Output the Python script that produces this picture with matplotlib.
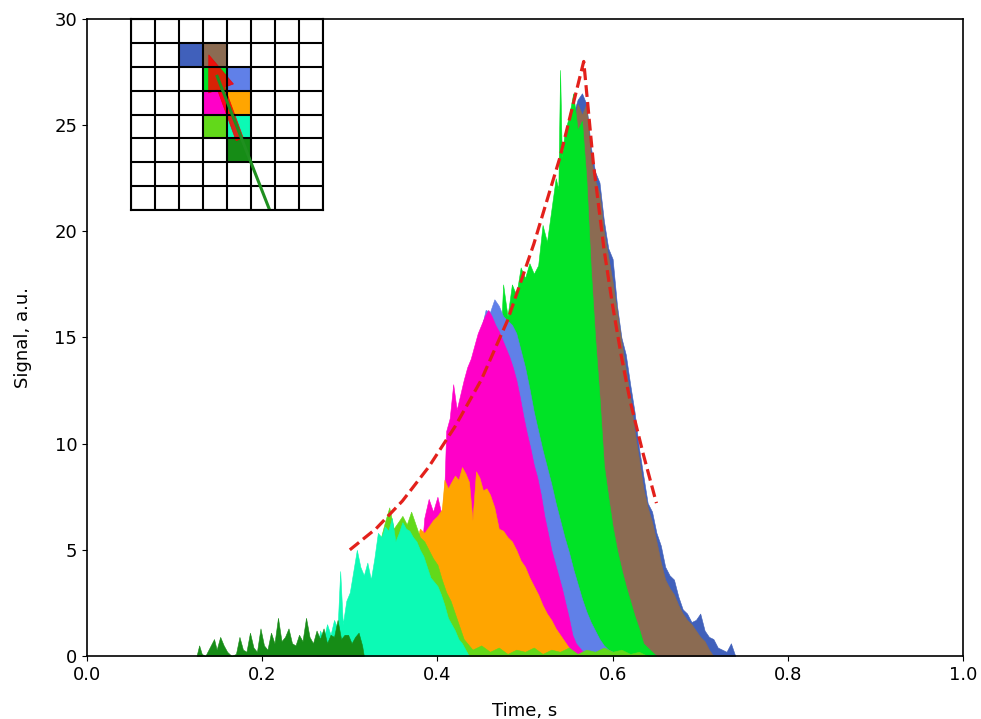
import matplotlib.pyplot as plt
from matplotlib.patches import Rectangle, FancyArrow

# detector pulses, in time order (first = earliest cell on the track)
colors = ["#168c16", "#0cfab5", "#62d91a", "#ffa500", "#ff00c8",
          "#6080e8", "#00e326", "#8b6b52", "#4060bb"]

t1 = [0.125, 0.128, 0.131, 0.135, 0.14, 0.145, 0.148, 0.152, 0.156, 0.16, 0.165, 0.17,
      0.174, 0.178, 0.182, 0.186, 0.19, 0.194, 0.198, 0.202, 0.206, 0.21, 0.214, 0.218,
      0.222, 0.226, 0.23, 0.234, 0.238, 0.242, 0.246, 0.25, 0.254, 0.258, 0.262, 0.266,
      0.27, 0.274, 0.278, 0.282, 0.286, 0.29, 0.294, 0.298, 0.302, 0.306, 0.31, 0.314, 0.316]
s1 = [0, 0.5, 0.1, 0, 0.4, 0.8, 0.3, 0.9, 0.5, 0.2, 0, 0.1,
      0.9, 0.3, 0.2, 1.1, 0.4, 0.2, 1.3, 0.5, 0.3, 1.1, 0.6, 1.8,
      0.7, 0.9, 1.3, 0.6, 0.5, 1.0, 0.7, 1.8, 0.9, 0.6, 1.2, 0.8,
      1.3, 0.6, 1.0, 0.9, 1.7, 0.8, 1.0, 1.0, 0.6, 0.9, 1.1, 0.5, 0]

t2 = [0.262, 0.266, 0.27, 0.274, 0.278, 0.282, 0.286, 0.289, 0.292, 0.296, 0.30, 0.304,
      0.308, 0.312, 0.316, 0.32, 0.324, 0.328, 0.332, 0.336, 0.34, 0.344, 0.348, 0.352,
      0.356, 0.36, 0.364, 0.368, 0.372, 0.376, 0.38, 0.384, 0.388, 0.392, 0.396, 0.40,
      0.404, 0.408, 0.412, 0.416, 0.42, 0.424, 0.428, 0.432, 0.436]
s2 = [0, 1.2, 0.8, 1.5, 1.0, 1.7, 1.3, 4.0, 1.5, 2.6, 3.0, 4.0,
      5.0, 4.2, 3.8, 4.4, 3.6, 4.6, 5.8, 5.6, 6.1, 5.9, 6.5, 5.4,
      5.8, 6.3, 6.0, 5.9, 5.6, 5.4, 5.0, 4.7, 4.2, 3.7, 3.5, 3.3,
      2.9, 2.4, 1.8, 1.5, 1.2, 0.8, 0.6, 0.3, 0]

t3 = [0.30, 0.31, 0.32, 0.33, 0.335, 0.34, 0.345, 0.35, 0.355, 0.36, 0.365, 0.37,
      0.375, 0.38, 0.385, 0.39, 0.395, 0.40, 0.405, 0.41, 0.415, 0.42, 0.425, 0.43,
      0.44, 0.45, 0.46, 0.47, 0.48, 0.49, 0.50, 0.51, 0.52, 0.53, 0.54, 0.55,
      0.56, 0.57, 0.58, 0.59, 0.60, 0.61, 0.62, 0.63, 0.64]
s3 = [1.0, 2.5, 3.2, 4.2, 5.5, 6.3, 7.0, 6.0, 6.3, 6.6, 6.2, 6.8,
      6.2, 5.6, 5.4, 5.0, 4.6, 4.3, 3.6, 3.0, 2.6, 2.0, 1.4, 0.8,
      0.3, 0.5, 0.2, 0.4, 0.1, 0.3, 0.2, 0.4, 0.1, 0.3, 0.2, 0.4,
      0.1, 0.3, 0.2, 0.4, 0.2, 0.3, 0.1, 0.2, 0]

t4 = [0.36, 0.37, 0.375, 0.38, 0.385, 0.39, 0.395, 0.40, 0.405, 0.408, 0.412, 0.416,
      0.42, 0.424, 0.428, 0.432, 0.436, 0.44, 0.444, 0.448, 0.452, 0.456, 0.46, 0.465,
      0.47, 0.475, 0.48, 0.485, 0.49, 0.495, 0.50, 0.505, 0.51, 0.515, 0.52, 0.525,
      0.53, 0.535, 0.54, 0.545, 0.55, 0.555]
s4 = [3.0, 4.5, 5.3, 6.0, 5.8, 6.1, 6.4, 6.6, 6.9, 8.3, 7.9, 8.2,
      8.5, 8.3, 8.9, 8.6, 8.2, 6.4, 8.7, 8.4, 7.8, 7.9, 7.6, 7.0,
      6.0, 5.9, 5.6, 5.4, 5.0, 4.5, 4.2, 3.7, 3.3, 2.9, 2.4, 2.0,
      1.7, 1.3, 1.0, 0.7, 0.4, 0]

t5 = [0.38, 0.385, 0.39, 0.395, 0.40, 0.405, 0.408, 0.41, 0.414, 0.418, 0.422, 0.426,
      0.43, 0.434, 0.438, 0.442, 0.446, 0.45, 0.454, 0.458, 0.462, 0.466, 0.47, 0.474,
      0.478, 0.482, 0.486, 0.49, 0.494, 0.498, 0.502, 0.506, 0.51, 0.514, 0.518, 0.522,
      0.526, 0.53, 0.534, 0.538, 0.542, 0.546, 0.55, 0.554, 0.558, 0.562, 0.566, 0.57]
s5 = [4.0, 6.5, 7.4, 6.8, 7.5, 6.6, 8.0, 10.6, 11.2, 12.8, 11.6, 12.3,
      13.0, 13.6, 14.0, 14.6, 15.2, 15.6, 16.0, 16.3, 16.0, 15.6, 15.3, 14.9,
      14.5, 14.1, 13.6, 13.0, 12.2, 11.3, 10.5, 9.8, 9.0, 8.4, 7.6, 6.6,
      5.8, 5.0, 4.4, 3.8, 3.2, 2.5, 1.8, 1.0, 0.6, 0.4, 0.2, 0]

t6 = [0.42, 0.43, 0.44, 0.445, 0.45, 0.455, 0.46, 0.465, 0.47, 0.475, 0.48, 0.485,
      0.49, 0.495, 0.50, 0.505, 0.51, 0.515, 0.52, 0.525, 0.53, 0.535, 0.54, 0.545,
      0.55, 0.555, 0.56, 0.565, 0.57, 0.575, 0.58, 0.585, 0.59, 0.595, 0.60, 0.605]
s6 = [9.0, 12.0, 13.5, 14.6, 15.4, 16.3, 16.2, 16.8, 16.5, 16.0, 15.8, 15.6,
      15.2, 14.4, 13.6, 12.6, 11.5, 10.6, 9.7, 8.9, 8.1, 7.2, 6.4, 5.6,
      4.9, 4.1, 3.4, 2.7, 2.1, 1.6, 1.2, 0.8, 0.5, 0.3, 0.2, 0]

t7 = [0.47, 0.475, 0.48, 0.485, 0.49, 0.495, 0.50, 0.505, 0.51, 0.515, 0.52, 0.525,
      0.53, 0.535, 0.538, 0.540, 0.542, 0.545, 0.55, 0.555, 0.56, 0.565, 0.57, 0.575,
      0.58, 0.585, 0.59, 0.595, 0.60, 0.605, 0.61, 0.615, 0.62, 0.625, 0.63, 0.635,
      0.64, 0.645, 0.65]
s7 = [13.0, 17.5, 16.0, 17.5, 17.0, 18.3, 17.8, 18.5, 18.0, 18.4, 20.3, 19.5,
      21.0, 22.5, 22.0, 27.6, 23.5, 24.6, 25.4, 26.5, 24.8, 25.2, 22.5, 18.3,
      15.0, 12.2, 9.0, 7.5, 6.1, 5.0, 4.1, 3.3, 2.6, 1.9, 1.3, 0.6,
      0.4, 0.2, 0]

t8 = [0.55, 0.555, 0.56, 0.565, 0.57, 0.575, 0.58, 0.585, 0.59, 0.595, 0.60, 0.605,
      0.61, 0.615, 0.62, 0.625, 0.63, 0.635, 0.64, 0.645, 0.65, 0.655, 0.66, 0.665,
      0.67, 0.675, 0.68, 0.685, 0.69, 0.695, 0.70, 0.705, 0.71, 0.715]
s8 = [24.0, 25.0, 26.0, 25.5, 26.0, 23.5, 22.4, 21.8, 20.0, 18.8, 17.6, 16.2,
      14.8, 13.5, 12.2, 10.6, 9.3, 7.9, 7.0, 6.3, 5.4, 4.4, 3.6, 3.2,
      2.9, 2.4, 2.0, 1.7, 1.5, 1.2, 0.9, 0.7, 0.3, 0]

t9 = [0.55, 0.555, 0.56, 0.565, 0.57, 0.575, 0.58, 0.585, 0.59, 0.595, 0.60, 0.605,
      0.61, 0.615, 0.62, 0.625, 0.63, 0.635, 0.64, 0.645, 0.65, 0.655, 0.66, 0.665,
      0.67, 0.675, 0.68, 0.685, 0.69, 0.695, 0.70, 0.705, 0.71, 0.715, 0.72, 0.725,
      0.73, 0.735, 0.74]
s9 = [24.5, 25.5, 26.2, 26.5, 26.0, 24.0, 22.8, 22.3, 20.5, 19.2, 18.7, 16.5,
      15.0, 14.2, 12.8, 11.5, 9.8, 8.5, 7.2, 6.8, 5.8, 5.2, 4.2, 3.8,
      3.6, 2.8, 2.2, 2.0, 1.6, 1.7, 2.0, 1.2, 0.9, 0.8, 0.4, 0.3,
      0.2, 0.6, 0]

series = [(t1, s1), (t2, s2), (t3, s3), (t4, s4), (t5, s5),
          (t6, s6), (t7, s7), (t8, s8), (t9, s9)]

# red dashed envelope
env_t = [0.30, 0.33, 0.36, 0.39, 0.42, 0.45, 0.48, 0.51, 0.54, 0.567,
         0.578, 0.59, 0.60, 0.61, 0.62, 0.635, 0.65]
env_s = [5.0, 6.0, 7.3, 8.9, 10.8, 13.0, 15.8, 19.4, 23.5, 28.0,
         23.2, 19.2, 16.5, 14.1, 12.0, 9.5, 7.2]

# inset: hit cells on the 8x8 grid (column, row from top)
cell_col = [4, 4, 3, 4, 3, 4, 3, 3, 2]
cell_row = [5, 4, 4, 3, 3, 2, 2, 1, 1]

fig = plt.figure(figsize=(9.81, 7.19), dpi=100)
ax = fig.add_axes([0.0887, 0.0876, 0.893, 0.886])

# later pulses go underneath earlier ones
for (t, s), c in reversed(list(zip(series, colors))):
    ax.fill_between(t, 0, s, color=c, lw=0.4)

ax.plot(env_t, env_s, "--", color="#e3201b", lw=2.3)

ax.set_xlim(0, 1)
ax.set_ylim(0, 30)
ax.set_xticks([0, 0.2, 0.4, 0.6, 0.8, 1.0])
ax.set_yticks(range(0, 31, 5))
ax.tick_params(labelsize=13)
ax.set_xlabel("Time, s", fontsize=13, labelpad=13)
ax.set_ylabel("Signal, a.u.", fontsize=13, labelpad=16)
for sp in ax.spines.values():
    sp.set_linewidth(1.2)

ins = ax.inset_axes([0.05, 21, 0.219, 9], transform=ax.transData)
ins.set_xlim(0, 8)
ins.set_ylim(8, 0)
for cc, rr, c in zip(cell_col, cell_row, colors):
    ins.add_patch(Rectangle((cc, rr), 1, 1, fc=c, ec="none"))
for i in range(9):
    ins.axhline(i, color="black", lw=1.5)
    ins.axvline(i, color="black", lw=1.5)
ins.plot([5.79, 3.6], [8.0, 2.4], color="#1f8f1f", lw=2.2)
ins.add_patch(FancyArrow(4.54, 5.04, 3.25 - 4.54, 1.5 - 5.04, width=0.32,
                         head_width=1.1, head_length=1.5,
                         length_includes_head=True, fc="#ff0000", ec="#ee0000",
                         alpha=0.85, lw=0.5))
ins.set_xticks([])
ins.set_yticks([])
for sp in ins.spines.values():
    sp.set_linewidth(1.5)

fig.savefig("out.png", dpi=100)
